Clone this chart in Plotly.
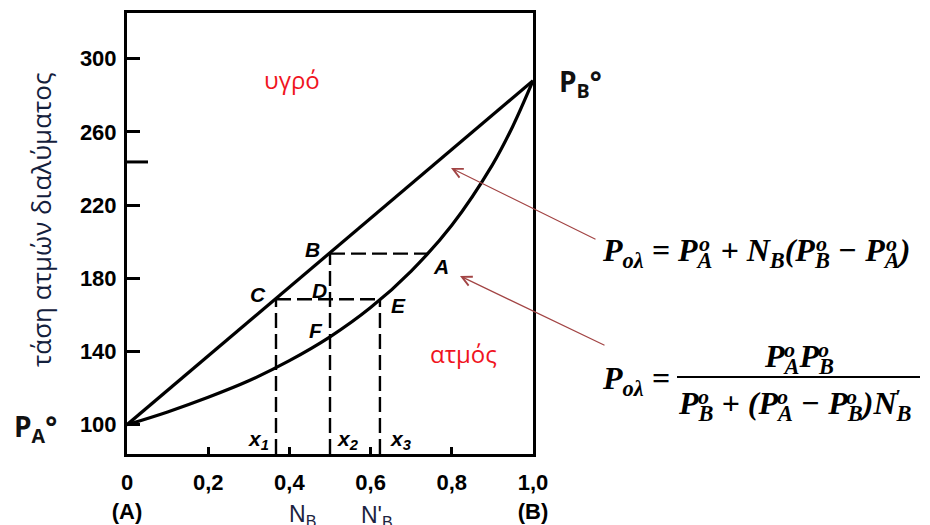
import plotly.graph_objects as go

# ---- data ----------------------------------------------------------------
P_A = 100          # vapour pressure of pure A
P_B = 288          # vapour pressure of pure B

liquid_x = [0.0, 1.0]
liquid_y = [P_A, P_B]

vapour_x = [0.0, 0.1, 0.2, 0.3, 0.4, 0.5, 0.6, 0.7, 0.8, 0.9, 0.95, 1.0]
vapour_y = [100, 107, 115, 124, 135, 148, 164, 184, 209, 242, 263, 288]

x1, x2, x3 = 0.367, 0.5, 0.623     # compositions x1, x2 (N_B), x3 (N'_B)
x_A = 0.742                        # vapour composition at point A
p_B = 193.5                        # pressure at B / A
p_C = 168.6                        # pressure at C / E

x_ticks = [0, 0.2, 0.4, 0.6, 0.8, 1.0]
x_ticktext = ["0<br>(A)", "0,2", "0,4", "0,6", "0,8", "1,0<br>(B)"]
y_ticks = [100, 140, 180, 220, 260, 300]
y_ticktext = ["100", "140", "180", "220", "260", "300"]

Y_MIN, Y_MAX = 84, 325

# ---- geometry helpers (pixel -> paper) ------------------------------------
W, H = 930, 525
L, R, T, B = 127, 533, 13, 454


def px(xp):
    return (xp - L) / (R - L)


def py(yp):
    return (B - yp) / (B - T)


fig = go.Figure()

# liquid line and vapour curve
fig.add_trace(go.Scatter(x=liquid_x, y=liquid_y, mode="lines",
                         line=dict(color="black", width=3.2),
                         hoverinfo="skip", showlegend=False))
fig.add_trace(go.Scatter(x=vapour_x, y=vapour_y, mode="lines",
                         line=dict(color="black", width=3.2, shape="spline",
                                   smoothing=1.0),
                         hoverinfo="skip", showlegend=False))

# dashed construction lines
dash = dict(color="black", width=2.4, dash="15px,6px")
segments = [
    ([x1, x1], [Y_MIN, p_C]),
    ([x2, x2], [Y_MIN, p_B]),
    ([x3, x3], [Y_MIN, p_C]),
    ([x1, x3], [p_C, p_C]),
    ([x2, x_A], [p_B, p_B]),
]
for sx, sy in segments:
    fig.add_trace(go.Scatter(x=sx, y=sy, mode="lines", line=dash,
                             hoverinfo="skip", showlegend=False))

ann = []


def label(txt, xp_, yp_, font, **kw):
    d = dict(x=px(xp_), y=py(yp_), xref="paper", yref="paper", text=txt,
             showarrow=False, font=font, xanchor="center", yanchor="middle")
    d.update(kw)
    ann.append(d)


# point labels
lab_font = dict(family="Liberation Sans", size=21, color="black",
                weight="bold", style="italic")
for txt, xp_, yp_ in [("B", 312, 250), ("A", 441, 266), ("C", 258, 294),
                      ("D", 319, 290), ("E", 398, 305), ("F", 316, 330),
                      ("x<sub>1</sub>", 258, 440), ("x<sub>2</sub>", 348, 440),
                      ("x<sub>3</sub>", 400, 440)]:
    label(txt, xp_, yp_, lab_font)

# phase region labels
red_font = dict(family="Open Sans", size=24, color="#f0141e", weight=500)
label("υγρό", 292, 80, red_font)
label("ατμός", 463, 353, red_font)

# axis title
label("τάση ατμών διαλύματος", 41, 220,
      dict(family="Open Sans", size=26, color="#14203c", weight=500),
      textangle=-90)

# pure-component pressures
pf = dict(family="Open Sans", size=28, color="#111111", weight="bold")
label("P<sub>A</sub>°", 35, 428, pf)
label("P<sub>B</sub>°", 580, 83, pf)

# composition labels
nf = dict(family="Liberation Sans", size=23, color="#1c2340")
label("N<sub>B</sub>", 302, 515, nf)
label("N'<sub>B</sub>", 377, 516, nf)

# arrows pointing at the two curves
arrow_col = "#a24444"
for tip, tail in [((451, 168), (597, 240)), ((460, 276), (606, 346))]:
    ann.append(dict(x=px(tip[0]), y=py(tip[1]), xref="paper", yref="paper",
                    ax=tail[0] - tip[0], ay=tail[1] - tip[1], text="",
                    showarrow=True, arrowhead=5, arrowsize=1.6,
                    arrowwidth=1.2, arrowcolor=arrow_col))

# ---- formulas ------------------------------------------------------------
F = 32
SERIF = "Liberation Serif, Times New Roman, DejaVu Serif, serif"
ff = dict(family=SERIF, size=F, color="black", weight="bold", style="italic")
sf = dict(family=SERIF, size=round(F * 0.7), color="black",
          weight="bold", style="italic")


def formula(text, x0, yc, sups):
    ann.append(dict(x=px(x0), y=py(yc), xref="paper", yref="paper",
                    text=text, showarrow=False, font=ff,
                    xanchor="left", yanchor="middle"))
    for off, s in sups:
        ann.append(dict(x=px(x0 + off * F), y=py(yc - 9), xref="paper",
                        yref="paper", text=s, showarrow=False, font=sf,
                        xanchor="left", yanchor="middle"))


formula("P<sub>oλ</sub> = P<sub>A</sub> + N<sub>B</sub>(P<sub>B</sub> − P<sub>A</sub>)",
        600, 252, [(3.03, "o"), (6.70, "o"), (8.88, "o")])
formula("P<sub>oλ</sub> =", 600, 380, [])
formula("P<sub>A</sub>P<sub>B</sub>", 762, 358, [(0.611, "o"), (1.69, "o")])
formula("P<sub>B</sub> + (P<sub>A</sub> − P<sub>B</sub>)N<sub>B</sub>", 676, 405,
        [(0.611, "o"), (3.09, "o"), (5.24, "o"), (6.76, "'")])

shapes = [
    # fraction bar
    dict(type="line", xref="paper", yref="paper", x0=px(677), x1=px(920),
         y0=py(377), y1=py(377), line=dict(color="black", width=2)),
    # extra long tick on the pressure axis
    dict(type="line", xref="paper", yref="y", x0=0, x1=px(148),
         y0=243.6, y1=243.6, line=dict(color="black", width=3)),
]

tick_font = dict(family="Liberation Sans", size=22, color="black",
                 weight="bold")

fig.update_layout(
    width=W, height=H,
    margin=dict(l=L, r=W - R, t=T, b=H - B, autoexpand=False),
    paper_bgcolor="white", plot_bgcolor="white",
    showlegend=False,
    annotations=ann, shapes=shapes,
    xaxis=dict(range=[0, 1], tickvals=x_ticks, ticktext=x_ticktext,
               ticks="inside", ticklen=7, tickwidth=3, tickcolor="black",
               showline=True, linewidth=3, linecolor="black", mirror=True,
               showgrid=False, zeroline=False, tickfont=tick_font,
               ticklabelstandoff=7, automargin=False),
    yaxis=dict(range=[Y_MIN, Y_MAX], tickvals=y_ticks, ticktext=y_ticktext,
               ticks="inside", ticklen=13, tickwidth=3, tickcolor="black",
               showline=True, linewidth=3, linecolor="black", mirror=True,
               showgrid=False, zeroline=False, tickfont=tick_font,
               ticklabelstandoff=3, automargin=False),
)

fig.write_html("out.html")
